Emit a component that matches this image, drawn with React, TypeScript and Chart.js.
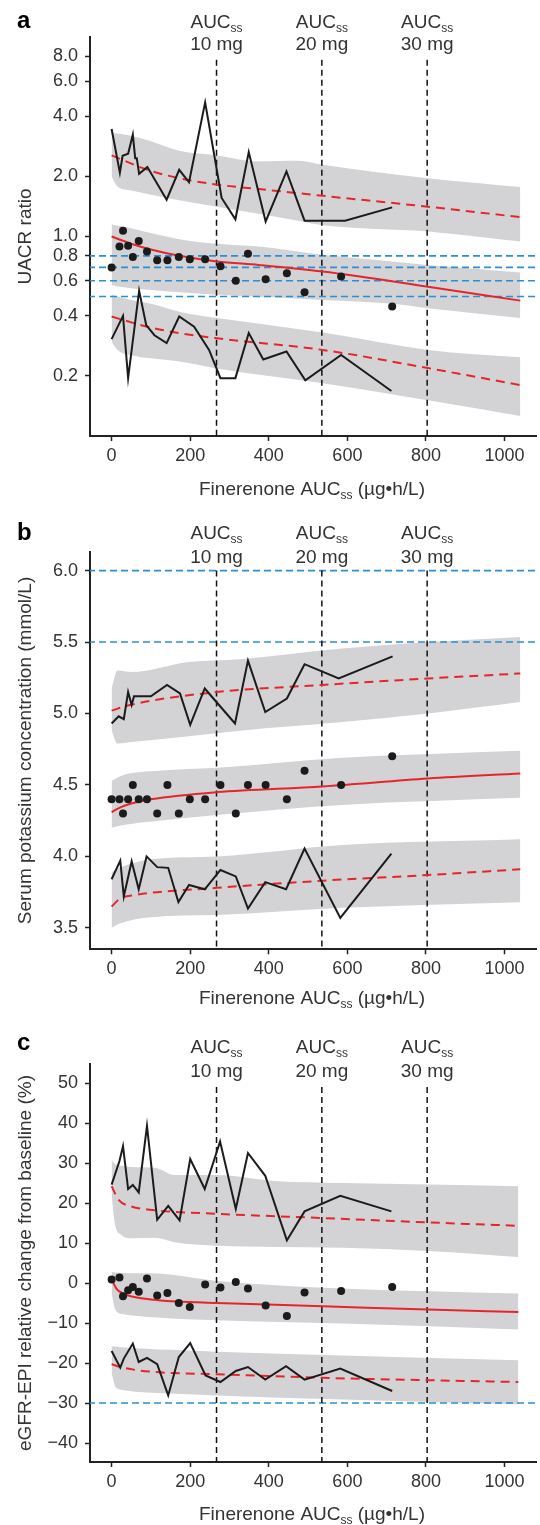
import React, { useEffect, useRef } from "react";
import { Chart, registerables } from "chart.js";
Chart.register(...registerables);

const FONT = '"Liberation Sans", Arial, Helvetica, sans-serif';
const TEXT = "#333333";
const AXIS = "#222222";
const GRAY = "#d3d3d5";
const RED = "#e4262c";
const BLUE = "#2a8fd4";
const BLACK = "#1b1b1b";

// ---- shared ----
const X_TICKS = [0, 200, 400, 600, 800, 1000];
const AUC_X = [267, 535, 803];
const DOSE_LABELS = ["10 mg", "20 mg", "30 mg"];
const OBS_X = [0, 20, 29, 42, 54, 69, 90, 116, 142, 171, 199, 238, 277, 316, 347, 392, 446, 491, 584, 714];

// ---- panel a: UACR ratio (log) ----
const A_Y_TICKS = [0.2, 0.4, 0.6, 0.8, 1.0, 2.0, 4.0, 6.0, 8.0];
const A_BLUE = [0.8, 0.7, 0.6, 0.5];
const A_MEDIAN = [0.70, 0.89, 1.07, 0.90, 0.79, 0.95, 0.84, 0.76, 0.76, 0.79, 0.77, 0.77, 0.71, 0.60, 0.82, 0.61, 0.655, 0.526, 0.63, 0.446];
const A_UP_OBS_X = [0, 21, 28, 42, 54, 60, 64, 70, 91, 140, 172, 197, 238, 280, 315, 349, 392, 445, 491, 594, 714];
const A_UP_OBS = [3.46, 2.09, 2.54, 2.60, 3.24, 2.47, 2.47, 2.06, 2.23, 1.53, 2.16, 1.87, 4.70, 1.56, 1.22, 2.65, 1.19, 2.12, 1.20, 1.20, 1.40];
const A_LO_OBS_X = [0, 29, 42, 70, 88, 109, 140, 172, 210, 248, 277, 315, 349, 386, 445, 493, 584, 712];
const A_LO_OBS = [0.306, 0.40, 0.195, 0.534, 0.36, 0.32, 0.292, 0.397, 0.353, 0.27, 0.195, 0.195, 0.328, 0.242, 0.265, 0.19, 0.255, 0.168];
const A_UP_PRED_X = [0, 91, 172, 268, 374, 537, 805, 1040];
const A_UP_PRED = [2.55, 2.16, 1.96, 1.82, 1.73, 1.60, 1.41, 1.25];
const A_MED_PRED_X = [0, 50, 100, 172, 268, 374, 537, 805, 1040];
const A_MED_PRED = [1.0, 0.92, 0.86, 0.80, 0.75, 0.72, 0.667, 0.56, 0.477];
const A_LO_PRED_X = [0, 88, 172, 268, 537, 805, 1040];
const A_LO_PRED = [0.397, 0.354, 0.328, 0.309, 0.27, 0.219, 0.18];
const A_UP_BAND_X = [0, 15, 50, 100, 172, 268, 374, 475, 537, 805, 1040];
const A_UP_BAND_TOP = [3.30, 3.28, 3.2, 3.0, 2.69, 2.55, 2.38, 2.40, 2.29, 1.96, 1.77];
const A_UP_BAND_BOT = [2.0, 1.78, 1.70, 1.62, 1.52, 1.41, 1.30, 1.20, 1.14, 1.06, 0.944];
const A_MID_BAND_X = [0, 50, 100, 172, 268, 374, 537, 714, 805, 1040];
const A_MID_BAND_TOP = [1.15, 1.10, 1.04, 0.97, 0.92, 0.89, 0.81, 0.75, 0.72, 0.66];
const A_MID_BAND_BOT = [0.57, 0.55, 0.54, 0.525, 0.51, 0.50, 0.48, 0.46, 0.437, 0.39];
const A_LO_BAND_X = [0, 15, 50, 100, 172, 268, 400, 537, 805, 1040];
const A_LO_BAND_TOP = [0.51, 0.50, 0.48, 0.46, 0.42, 0.39, 0.36, 0.33, 0.27, 0.248];
const A_LO_BAND_BOT = [0.297, 0.27, 0.254, 0.245, 0.236, 0.218, 0.20, 0.184, 0.151, 0.126];

// ---- panel b: serum potassium ----
const B_Y_TICKS = [3.5, 4.0, 4.5, 5.0, 5.5, 6.0];
const B_BLUE = [6.0, 5.5];
const B_MEDIAN = [4.4, 4.4, 4.3, 4.4, 4.5, 4.4, 4.4, 4.3, 4.5, 4.3, 4.4, 4.4, 4.5, 4.3, 4.5, 4.5, 4.4, 4.6, 4.5, 4.7];
const B_UP_OBS_X = [0, 18, 31, 42, 51, 57, 100, 141, 174, 200, 237, 314, 347, 391, 446, 491, 578, 715];
const B_UP_OBS = [4.93, 4.98, 4.96, 5.15, 5.06, 5.12, 5.12, 5.20, 5.14, 4.92, 5.175, 4.93, 5.37, 5.01, 5.105, 5.345, 5.245, 5.40];
const B_LO_OBS_X = [0, 22, 31, 51, 69, 89, 116, 144, 170, 197, 237, 277, 316, 347, 391, 444, 491, 582, 712];
const B_LO_OBS = [3.84, 3.97, 3.72, 3.965, 3.77, 4.00, 3.925, 3.92, 3.68, 3.80, 3.77, 3.905, 3.86, 3.635, 3.82, 3.77, 4.055, 3.57, 4.02];
const B_UP_PRED_X = [0, 47, 268, 537, 805, 1040];
const B_UP_PRED = [5.02, 5.06, 5.15, 5.20, 5.245, 5.28];
const B_MED_PRED_X = [0, 20, 50, 100, 268, 537, 805, 1040];
const B_MED_PRED = [4.31, 4.34, 4.37, 4.40, 4.45, 4.49, 4.545, 4.58];
const B_LO_PRED_X = [0, 22, 60, 268, 537, 805, 1040];
const B_LO_PRED = [3.65, 3.705, 3.73, 3.78, 3.83, 3.87, 3.91];
const B_UP_BAND_X = [0, 15, 50, 196, 326, 587, 805, 1040];
const B_UP_BAND_TOP = [5.175, 5.30, 5.29, 5.36, 5.38, 5.455, 5.50, 5.535];
const B_UP_BAND_BOT = [4.88, 4.79, 4.80, 4.84, 4.88, 4.94, 5.00, 5.08];
const B_MID_BAND_X = [0, 30, 120, 268, 587, 1040];
const B_MID_BAND_TOP = [4.53, 4.57, 4.60, 4.62, 4.69, 4.74];
const B_MID_BAND_BOT = [4.20, 4.22, 4.25, 4.29, 4.36, 4.41];
const B_LO_BAND_X = [0, 20, 100, 268, 587, 1040];
const B_LO_BAND_TOP = [3.89, 3.92, 3.98, 4.0, 4.08, 4.12];
const B_LO_BAND_BOT = [3.50, 3.53, 3.575, 3.59, 3.64, 3.68];

// ---- panel c: eGFR-EPI relative change ----
const C_Y_TICKS = [-40, -30, -20, -10, 0, 10, 20, 30, 40, 50];
const C_BLUE = [-30];
const C_MEDIAN = [0.85, 1.35, -3.3, -1.8, -1.0, -2.2, 1.1, -3.1, -2.5, -5.0, -6.0, -0.4, -1.15, 0.25, -1.4, -5.6, -8.25, -2.4, -2.0, -1.0];
const C_UP_OBS_X = [0, 20, 29, 42, 54, 69, 90, 116, 144, 173, 200, 237, 276, 316, 347, 391, 446, 491, 582, 712];
const C_UP_OBS = [24.6, 30.5, 34.2, 23.5, 24.5, 22.65, 39.3, 15.8, 19.3, 15.65, 31.0, 23.5, 35.4, 18.5, 32.5, 26.8, 10.65, 17.9, 21.8, 17.9];
const C_LO_OBS_X = [0, 22, 31, 54, 69, 90, 116, 144, 171, 200, 239, 277, 316, 347, 391, 444, 491, 582, 714];
const C_LO_OBS = [-17, -21.15, -18.9, -15.15, -19.75, -18.7, -20.3, -28.1, -18.5, -15.0, -23.1, -24.75, -22, -21, -24.15, -20.8, -24.15, -21.4, -27];
const C_UP_PRED_X = [0, 18, 48, 109, 268, 537, 805, 1035];
const C_UP_PRED = [24.2, 20.8, 19.2, 18.2, 17.3, 16.25, 15.15, 14.3];
const C_MED_PRED_X = [0, 12, 30, 65, 118, 268, 537, 805, 1035];
const C_MED_PRED = [1.0, -1.4, -2.65, -3.65, -4.3, -5.0, -5.8, -6.65, -7.25];
const C_LO_PRED_X = [0, 30, 109, 268, 537, 805, 1035];
const C_LO_PRED = [-20.3, -21.2, -22.25, -22.8, -23.7, -24.3, -24.75];
const C_UP_BAND_X = [0, 8, 25, 50, 110, 160, 268, 413, 587, 805, 1035];
const C_UP_BAND_TOP = [30.8, 29.8, 29.3, 29.0, 28.8, 27.0, 27.0, 25.5, 25.0, 24.6, 24.2];
const C_UP_BAND_BOT = [22, 15, 12, 11.2, 11.3, 10.2, 9.3, 9.0, 8.8, 8.0, 6.5];
const C_MID_BAND_X = [0, 10, 30, 116, 268, 587, 1035];
const C_MID_BAND_TOP = [2.75, 2.6, 2.5, 2.35, 0.5, -1.4, -2.65];
const C_MID_BAND_BOT = [-2.65, -6.8, -7.8, -8.6, -9.3, -10.15, -11.6];
const C_LO_BAND_X = [0, 10, 30, 150, 268, 587, 1035];
const C_LO_BAND_TOP = [-15.8, -15.9, -16.1, -16.7, -17.2, -18.1, -19.3];
const C_LO_BAND_BOT = [-22.65, -26, -26.8, -27.65, -28.1, -29.15, -30.3];

type Series = { x: number[]; y: number[] };
type Band = { x: number[]; top: number[]; bottom: number[] };
type PanelCfg = {
  key: string;
  letter: string;
  top: number;
  height: number;
  padTop: number;
  axisBottom: number;
  yType: "linear" | "logarithmic";
  yMin: number;
  yMax: number;
  yTicks: number[];
  yFmt: (v: number) => string;
  yTitle: string;
  yTitleCY: number;
  letterBase: number;
  aucBase1: number;
  aucBase2: number;
  xTitleBase: number;
  vTop: number;
  blue: number[];
  bands: Band[];
  preds: { s: Series; dashed: boolean }[];
  obs: Series[];
  dots: Series;
};

const pts = (xs: number[], ys: number[]) => xs.map((x, i) => ({ x, y: ys[i] }));

const PANELS: PanelCfg[] = [
  {
    key: "a", letter: "a", top: 0, height: 505, padTop: 37, axisBottom: 436,
    yType: "logarithmic", yMin: 0.1, yMax: 10, yTicks: A_Y_TICKS, yFmt: (v) => v.toFixed(1),
    yTitle: "UACR ratio", yTitleCY: 236.5, letterBase: 28, aucBase1: 28, aucBase2: 50, xTitleBase: 495,
    vTop: 7.7, blue: A_BLUE,
    bands: [
      { x: A_UP_BAND_X, top: A_UP_BAND_TOP, bottom: A_UP_BAND_BOT },
      { x: A_MID_BAND_X, top: A_MID_BAND_TOP, bottom: A_MID_BAND_BOT },
      { x: A_LO_BAND_X, top: A_LO_BAND_TOP, bottom: A_LO_BAND_BOT },
    ],
    preds: [
      { s: { x: A_UP_PRED_X, y: A_UP_PRED }, dashed: true },
      { s: { x: A_MED_PRED_X, y: A_MED_PRED }, dashed: false },
      { s: { x: A_LO_PRED_X, y: A_LO_PRED }, dashed: true },
    ],
    obs: [{ x: A_UP_OBS_X, y: A_UP_OBS }, { x: A_LO_OBS_X, y: A_LO_OBS }],
    dots: { x: OBS_X, y: A_MEDIAN },
  },
  {
    key: "b", letter: "b", top: 500, height: 510, padTop: 52, axisBottom: 449.3,
    yType: "linear", yMin: 3.35, yMax: 6.13, yTicks: B_Y_TICKS, yFmt: (v) => v.toFixed(1),
    yTitle: "Serum potassium concentration (mmol/L)", yTitleCY: 250.5, letterBase: 40, aucBase1: 39, aucBase2: 63, xTitleBase: 504,
    vTop: 6.0, blue: B_BLUE,
    bands: [
      { x: B_UP_BAND_X, top: B_UP_BAND_TOP, bottom: B_UP_BAND_BOT },
      { x: B_MID_BAND_X, top: B_MID_BAND_TOP, bottom: B_MID_BAND_BOT },
      { x: B_LO_BAND_X, top: B_LO_BAND_TOP, bottom: B_LO_BAND_BOT },
    ],
    preds: [
      { s: { x: B_UP_PRED_X, y: B_UP_PRED }, dashed: true },
      { s: { x: B_MED_PRED_X, y: B_MED_PRED }, dashed: false },
      { s: { x: B_LO_PRED_X, y: B_LO_PRED }, dashed: true },
    ],
    obs: [{ x: B_UP_OBS_X, y: B_UP_OBS }, { x: B_LO_OBS_X, y: B_LO_OBS }],
    dots: { x: OBS_X, y: B_MEDIAN },
  },
  {
    key: "c", letter: "c", top: 1005, height: 520, padTop: 59, axisBottom: 457,
    yType: "linear", yMin: -44.75, yMax: 54.75, yTicks: C_Y_TICKS,
    yFmt: (v) => (v < 0 ? "\u2212" + Math.abs(v) : String(v)),
    yTitle: "eGFR-EPI relative change from baseline (%)", yTitleCY: 258, letterBase: 45, aucBase1: 48, aucBase2: 72, xTitleBase: 515,
    vTop: 49, blue: C_BLUE,
    bands: [
      { x: C_UP_BAND_X, top: C_UP_BAND_TOP, bottom: C_UP_BAND_BOT },
      { x: C_MID_BAND_X, top: C_MID_BAND_TOP, bottom: C_MID_BAND_BOT },
      { x: C_LO_BAND_X, top: C_LO_BAND_TOP, bottom: C_LO_BAND_BOT },
    ],
    preds: [
      { s: { x: C_UP_PRED_X, y: C_UP_PRED }, dashed: true },
      { s: { x: C_MED_PRED_X, y: C_MED_PRED }, dashed: false },
      { s: { x: C_LO_PRED_X, y: C_LO_PRED }, dashed: true },
    ],
    obs: [{ x: C_UP_OBS_X, y: C_UP_OBS }, { x: C_LO_OBS_X, y: C_LO_OBS }],
    dots: { x: OBS_X, y: C_MEDIAN },
  },
];

function drawParts(ctx: CanvasRenderingContext2D, parts: [string, number, number][], cx: number, base: number) {
  let total = 0;
  const widths = parts.map(([t, size]) => {
    ctx.font = `${size}px ${FONT}`;
    const w = ctx.measureText(t).width;
    total += w;
    return w;
  });
  let x = cx - total / 2;
  ctx.textAlign = "left";
  ctx.textBaseline = "alphabetic";
  parts.forEach(([t, size, dy], i) => {
    ctx.font = `${size}px ${FONT}`;
    ctx.fillText(t, x, base + dy);
    x += widths[i];
  });
}

function buildConfig(p: PanelCfg): any {
  const datasets: any[] = [];
  p.bands.forEach((b) => {
    datasets.push({
      data: pts(b.x, b.top), borderColor: "rgba(0,0,0,0)", borderWidth: 0, pointRadius: 0,
      fill: "+1", backgroundColor: GRAY, cubicInterpolationMode: "monotone", order: 30,
    });
    datasets.push({
      data: pts(b.x, b.bottom), borderColor: "rgba(0,0,0,0)", borderWidth: 0, pointRadius: 0,
      fill: false, cubicInterpolationMode: "monotone", order: 30,
    });
  });
  p.blue.forEach((v) => {
    datasets.push({
      data: pts([-60, 1100], [v, v]), borderColor: BLUE, borderWidth: 1.6, borderDash: [7, 4],
      pointRadius: 0, fill: false, order: 20,
    });
  });
  AUC_X.forEach((v) => {
    datasets.push({
      data: pts([v, v], [p.vTop, p.yMin]), borderColor: "#111", borderWidth: 1.5, borderDash: [6, 4],
      pointRadius: 0, fill: false, order: 19,
    });
  });
  p.preds.forEach(({ s, dashed }) => {
    datasets.push({
      data: pts(s.x, s.y), borderColor: RED, borderWidth: 2, borderDash: dashed ? [9, 6] : [],
      pointRadius: 0, fill: false, cubicInterpolationMode: "monotone", order: 10,
    });
  });
  p.obs.forEach((s) => {
    datasets.push({
      data: pts(s.x, s.y), borderColor: BLACK, borderWidth: 2, pointRadius: 0, fill: false,
      tension: 0, order: 5,
    });
  });
  datasets.push({
    data: pts(p.dots.x, p.dots.y), showLine: false, pointRadius: 4, pointBackgroundColor: BLACK,
    pointBorderColor: BLACK, pointBorderWidth: 0, fill: false, order: 1,
  });

  const textPlugin = {
    id: "txt" + p.key,
    afterDraw(chart: any) {
      const ctx: CanvasRenderingContext2D = chart.ctx;
      const xs = chart.scales.x;
      ctx.save();
      ctx.fillStyle = "#000";
      ctx.font = `bold 24px ${FONT}`;
      ctx.textAlign = "left";
      ctx.textBaseline = "alphabetic";
      ctx.fillText(p.letter, 17, p.letterBase);
      ctx.fillStyle = TEXT;
      AUC_X.forEach((v, i) => {
        const cx = xs.getPixelForValue(v);
        drawParts(ctx, [["AUC", 19, 0], ["ss", 12, 4]], cx, p.aucBase1);
        drawParts(ctx, [[DOSE_LABELS[i], 19, 0]], cx, p.aucBase2);
      });
      drawParts(ctx, [["Finerenone AUC", 19, 0], ["ss", 12, 4], [" (\u00b5g\u2022h/L)", 19, 0]], 312, p.xTitleBase);
      ctx.translate(26, p.yTitleCY);
      ctx.rotate(-Math.PI / 2);
      ctx.font = `19px ${FONT}`;
      ctx.textAlign = "center";
      ctx.textBaseline = "middle";
      ctx.fillText(p.yTitle, 0, 0);
      ctx.restore();
    },
  };

  return {
    type: "line",
    data: { datasets },
    options: {
      responsive: false,
      animation: false,
      devicePixelRatio: 1,
      events: [],
      layout: { padding: { top: p.padTop, left: 0, right: 0, bottom: 0 } },
      plugins: { legend: { display: false }, tooltip: { enabled: false } },
      scales: {
        x: {
          type: "linear", min: -55, max: 1080,
          afterBuildTicks: (s: any) => { s.ticks = X_TICKS.map((v) => ({ value: v })); },
          afterFit: (s: any) => { s.height = p.height - p.axisBottom; },
          ticks: { font: { family: FONT, size: 18 }, color: TEXT, padding: 4, maxRotation: 0, autoSkip: false, callback: (v: any) => String(v) },
          grid: { drawOnChartArea: false, drawTicks: true, tickLength: 5, tickColor: AXIS, tickWidth: 1.5 },
          border: { display: true, color: AXIS, width: 2 },
        },
        y: {
          type: p.yType, min: p.yMin, max: p.yMax,
          afterBuildTicks: (s: any) => { s.ticks = p.yTicks.map((v) => ({ value: v })); },
          afterFit: (s: any) => { s.width = 90; },
          ticks: { font: { family: FONT, size: 18 }, color: TEXT, padding: 7, autoSkip: false, callback: (v: any) => p.yFmt(Number(v)) },
          grid: { drawOnChartArea: false, drawTicks: true, tickLength: 5, tickColor: AXIS, tickWidth: 1.5 },
          border: { display: true, color: AXIS, width: 2 },
        },
      },
    },
    plugins: [textPlugin],
  };
}

function Panel({ cfg }: { cfg: PanelCfg }) {
  const ref = useRef<HTMLCanvasElement>(null);
  useEffect(() => {
    const chart = new Chart(ref.current as HTMLCanvasElement, buildConfig(cfg));
    return () => chart.destroy();
  }, [cfg]);
  return (
    <canvas
      ref={ref}
      width={540}
      height={cfg.height}
      style={{ position: "absolute", left: 0, top: cfg.top, width: 540, height: cfg.height }}
    />
  );
}

export default function App() {
  return (
    <div style={{ position: "absolute", left: 0, top: 0, width: 540, height: 1525, background: "#fff", overflow: "hidden" }}>
      {PANELS.map((p) => (
        <Panel key={p.key} cfg={p} />
      ))}
    </div>
  );
}
